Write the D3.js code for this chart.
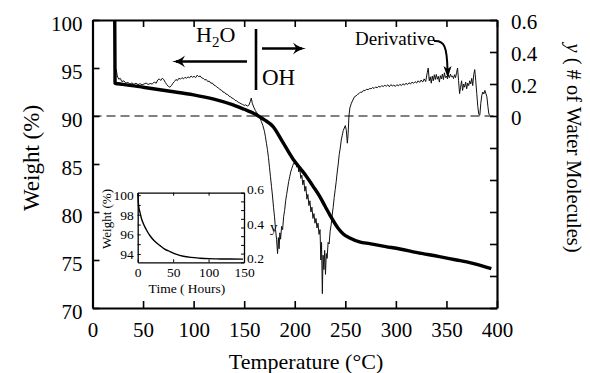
<!DOCTYPE html>
<html>
<head>
<meta charset="utf-8">
<script src="https://cdn.jsdelivr.net/npm/d3@7"></script>
<style>
  html, body { margin: 0; padding: 0; background: #fff; }
  svg { display: block; }
</style>
</head>
<body>
<svg id="chart" width="590" height="373" font-family="Liberation Serif"></svg>
<script>
// ---- data ----
const tempTicks = [0, 50, 100, 150, 200, 250, 300, 350, 400];
const weightTicks = [70, 75, 80, 85, 90, 95, 100];
const waterTicks = [-1.2, -1.0, -0.8, -0.6, -0.4, -0.2, 0, 0.2, 0.4, 0.6];
const waterLabels = [0, 0.2, 0.4, 0.6];

// thermogravimetric weight loss (%)
const tgaTemp   = [22, 22.3, 30, 50, 75, 100, 120, 139, 150, 157, 164, 170, 178.6, 188, 198.4, 205, 211.6, 218, 224.8, 230, 234.7, 242.9, 248, 254.4, 264, 274, 290, 304, 320, 343, 360, 370, 380, 394.4];
const tgaWeight = [100, 93.4, 93.3, 93.0, 92.6, 92.2, 91.75, 91.15, 90.7, 90.4, 90.0, 89.6, 88.9, 87.3, 85.5, 84.6, 83.7, 82.7, 81.6, 80.6, 79.7, 78.3, 77.7, 77.3, 76.9, 76.7, 76.4, 76.15, 75.8, 75.35, 75.0, 74.8, 74.55, 74.1];

// derivative expressed as y (# of water molecules)
const derivTemp = [21.5, 22.5, 23.5, 24.5, 26, 27.5, 29, 31, 33, 35, 37, 39, 41, 43, 45, 47, 49, 51, 53, 55, 57, 59, 61, 63, 64.5, 66, 67.5, 69, 70.5, 72, 73.5, 75, 76.5, 78, 79.5, 81, 82.5, 84, 85.5, 87, 88.5, 90, 91.5, 93, 94.5, 96, 97.5, 99, 100.5, 102, 103.5, 105, 106.5, 108, 109.5, 111, 112.5, 114, 115.5, 117, 118.5, 120, 121.5, 123, 124.5, 126, 127.5, 129, 130.5, 132, 133.5, 135, 136.5, 138, 139.5, 141, 142.5, 144, 145.5, 147, 148.5, 150, 151.5, 153, 154.5, 156, 157, 158, 159.5, 161, 162.5, 164, 165.5, 167, 168.5, 170, 171, 172, 173, 174, 175, 176, 177, 178, 179, 180, 181, 182, 183, 183.8, 184.5, 185.3, 186, 187, 188, 189, 190, 191, 192, 193, 194, 195, 196, 197, 198, 199, 200, 201, 202, 203, 204, 205, 206, 207, 208, 209, 210, 211, 212, 213, 214, 215, 216, 217, 218, 219, 220, 221, 222, 223, 224, 225, 225.8, 226.5, 227.3, 228, 228.8, 229.6, 230.4, 231.2, 232, 233, 234, 235, 236, 237, 238, 239, 240, 241, 242, 243, 244, 245, 246, 247, 248, 249, 250, 251, 252, 252.8, 253.6, 254.5, 256, 257.5, 259, 260.5, 262, 263.5, 265, 266.5, 268, 269.5, 271, 272.5, 274, 275.5, 277, 278.5, 280, 281.5, 283, 284.5, 286, 287.5, 289, 290.5, 292, 293.5, 295, 296.5, 298, 299.5, 301, 302.5, 304, 305.5, 307, 308.5, 310, 311.5, 313, 314.5, 316, 317.5, 319, 320.5, 322, 323.5, 325, 326.5, 328, 329.5, 331, 332, 333, 334, 335, 336, 337, 338, 339, 340, 341, 342, 343, 344, 345, 346, 347, 348, 349, 350, 351, 352, 353, 354, 355, 356, 357, 358, 359, 360, 361, 362, 363, 364, 365, 366, 367, 368, 369, 370, 371, 372, 373, 374, 375, 376, 377, 378, 379, 380, 381, 382, 383, 384, 385, 386, 387, 388, 389, 390, 391, 392, 393];
const derivWater = [0.31, 0.27, 0.29, 0.25, 0.23, 0.235, 0.215, 0.22, 0.205, 0.21, 0.2, 0.207, 0.198, 0.205, 0.196, 0.202, 0.195, 0.2, 0.206, 0.197, 0.203, 0.2, 0.212, 0.205, 0.225, 0.232, 0.222, 0.236, 0.228, 0.21, 0.196, 0.185, 0.18, 0.19, 0.205, 0.215, 0.228, 0.222, 0.236, 0.23, 0.24, 0.232, 0.242, 0.236, 0.245, 0.238, 0.25, 0.242, 0.248, 0.24, 0.255, 0.246, 0.25, 0.238, 0.235, 0.226, 0.228, 0.215, 0.218, 0.205, 0.206, 0.193, 0.19, 0.18, 0.176, 0.165, 0.162, 0.15, 0.148, 0.137, 0.135, 0.124, 0.12, 0.112, 0.108, 0.098, 0.095, 0.086, 0.082, 0.076, 0.072, 0.066, 0.07, 0.062, 0.066, 0.09, 0.112, 0.08, 0.055, 0.035, 0.02, 0.005, -0.01, -0.035, -0.06, -0.095, -0.13, -0.17, -0.21, -0.26, -0.32, -0.38, -0.44, -0.5, -0.57, -0.63, -0.71, -0.77, -0.86, -0.76, -0.83, -0.73, -0.77, -0.69, -0.71, -0.63, -0.59, -0.53, -0.49, -0.45, -0.41, -0.38, -0.35, -0.33, -0.31, -0.295, -0.3, -0.285, -0.32, -0.3, -0.35, -0.33, -0.39, -0.37, -0.43, -0.4, -0.47, -0.44, -0.52, -0.49, -0.56, -0.53, -0.6, -0.57, -0.64, -0.61, -0.67, -0.64, -0.7, -0.67, -0.74, -0.71, -0.9, -0.79, -1.11, -0.87, -0.96, -0.84, -0.99, -0.86, -0.89, -0.79, -0.8, -0.72, -0.68, -0.62, -0.57, -0.51, -0.46, -0.41, -0.35, -0.3, -0.24, -0.2, -0.15, -0.12, -0.09, -0.075, -0.06, -0.09, -0.17, -0.11, 0.0, 0.05, 0.08, 0.1, 0.12, 0.125, 0.135, 0.14, 0.15, 0.148, 0.16, 0.158, 0.168, 0.164, 0.172, 0.17, 0.178, 0.172, 0.182, 0.176, 0.186, 0.18, 0.19, 0.184, 0.192, 0.186, 0.195, 0.183, 0.196, 0.188, 0.193, 0.185, 0.196, 0.188, 0.198, 0.19, 0.202, 0.193, 0.205, 0.196, 0.208, 0.2, 0.212, 0.204, 0.215, 0.206, 0.22, 0.21, 0.225, 0.212, 0.232, 0.215, 0.27, 0.3, 0.22, 0.245, 0.205, 0.25, 0.22, 0.258, 0.228, 0.26, 0.23, 0.248, 0.212, 0.252, 0.232, 0.262, 0.228, 0.27, 0.24, 0.25, 0.232, 0.256, 0.24, 0.262, 0.245, 0.25, 0.234, 0.258, 0.24, 0.27, 0.3, 0.22, 0.14, 0.18, 0.22, 0.16, 0.2, 0.18, 0.212, 0.17, 0.205, 0.19, 0.22, 0.2, 0.235, 0.19, 0.26, 0.29, 0.22, 0.14, 0.06, 0.01, 0.005, 0.08, 0.13, 0.15, 0.138, 0.16, 0.14, 0.12, 0.06, 0.01, 0.005];

// isothermal weight loss versus time (inset)
const hourTicks = [0, 50, 100, 150];
const insetWeightTicks = [94, 96, 98, 100];
const insetWaterTicks = [0.2, 0.4, 0.6];
const insetHours  = [0.3, 0.7, 1.2, 2, 3.2, 5, 7.9, 12, 17.4, 24, 31.5, 38, 45.6, 55, 64.3, 75, 87.8, 100, 111.5, 130, 148.6];
const insetWeight = [100.2, 99.5, 99.0, 98.6, 98.25, 97.7, 97.1, 96.5, 95.86, 95.3, 94.85, 94.5, 94.24, 93.95, 93.77, 93.65, 93.57, 93.52, 93.5, 93.48, 93.47];

// ---- layout ----
const FONT = "Liberation Serif";
const svg = d3.select("#chart");
const box = { left: 92.5, right: 497, top: 20, bottom: 308 };

const x = d3.scaleLinear().domain([0, 400]).range([box.left, box.right]);
const yW = d3.scaleLinear().domain([70, 100]).range([box.bottom, box.top]);
const yH = d3.scaleLinear().domain([-1.2, 0.6]).range([box.bottom, box.top]);

const tickFont = 21;

function styleAxis(g, width) {
  g.attr("font-family", FONT);
  g.select(".domain").attr("stroke", "#000").attr("stroke-width", width);
  g.selectAll(".tick line").attr("stroke", "#000").attr("stroke-width", 1.6);
  g.selectAll(".tick text").attr("fill", "#000");
}

svg.append("g")
  .attr("transform", `translate(0,${box.bottom})`)
  .call(d3.axisBottom(x).tickValues(tempTicks).tickSize(-7).tickSizeOuter(0).tickPadding(14).tickFormat(d3.format("d")))
  .call(g => styleAxis(g, 2.2))
  .call(g => g.selectAll(".tick text").attr("font-size", tickFont));

svg.append("g")
  .attr("transform", `translate(0,${box.top})`)
  .call(d3.axisTop(x).tickValues(tempTicks).tickSize(-7).tickSizeOuter(0).tickFormat(""))
  .call(g => styleAxis(g, 2.2));

svg.append("g")
  .attr("transform", `translate(${box.left},0)`)
  .call(d3.axisLeft(yW).tickValues(weightTicks).tickSize(-7).tickSizeOuter(0).tickPadding(10).tickFormat(d3.format("d")))
  .call(g => styleAxis(g, 2.2))
  .call(g => g.selectAll(".tick text").attr("font-size", tickFont).attr("dy", "0.48em"));

svg.append("g")
  .attr("transform", `translate(${box.right},0)`)
  .call(d3.axisRight(yH).tickValues(waterTicks).tickSize(-7).tickSizeOuter(0).tickPadding(14)
    .tickFormat(d => waterLabels.some(v => Math.abs(v - d) < 1e-9) ? (Math.abs(d) < 1e-9 ? "0" : d3.format(".1f")(d)) : ""))
  .call(g => styleAxis(g, 2.2))
  .call(g => g.selectAll(".tick text").attr("font-size", tickFont).attr("dy", "0.4em"));

// axis titles
svg.append("text")
  .attr("transform", `translate(39,158) rotate(-90)`)
  .attr("text-anchor", "middle").attr("font-size", 23)
  .text("Weight (%)");

svg.append("text")
  .attr("transform", `translate(567,148) rotate(90)`)
  .attr("text-anchor", "middle").attr("font-size", 20.5)
  .call(t => {
    t.append("tspan").attr("font-style", "italic").text("y");
    t.append("tspan").text(" ( # of Water Molecules)");
  });

svg.append("text")
  .attr("x", 306).attr("y", 369)
  .attr("text-anchor", "middle").attr("font-size", 22)
  .text("Temperature (°C)");

// zero reference of the derivative
svg.append("line")
  .attr("x1", box.left).attr("x2", box.right)
  .attr("y1", yH(0)).attr("y2", yH(0))
  .attr("stroke", "#000").attr("stroke-width", 1)
  .attr("stroke-dasharray", "9,5");

// derivative trace
const derivLine = d3.line().x(d => x(d[0])).y(d => yH(d[1]));
svg.append("path")
  .datum(d3.zip(derivTemp, derivWater))
  .attr("d", derivLine)
  .attr("fill", "none").attr("stroke", "#111").attr("stroke-width", 1)
  .attr("stroke-linejoin", "round");

// weight curve
const tgaLine = d3.line().x(d => x(d[0])).y(d => yW(d[1])).curve(d3.curveMonotoneX);
svg.append("path")
  .datum(d3.zip(tgaTemp, tgaWeight))
  .attr("d", tgaLine)
  .attr("fill", "none").attr("stroke", "#000").attr("stroke-width", 3.4)
  .attr("stroke-linejoin", "round");

// ---- H2O / OH annotation ----
const ann = svg.append("g");
ann.append("text").attr("x", 196).attr("y", 42).attr("font-size", 22)
  .call(t => {
    t.append("tspan").text("H");
    t.append("tspan").attr("font-size", 15).attr("dy", 5).text("2");
    t.append("tspan").attr("dy", -5).text("O");
  });
ann.append("text").attr("x", 262).attr("y", 85).attr("font-size", 23).text("OH");
ann.append("line").attr("x1", 256).attr("x2", 256).attr("y1", 29).attr("y2", 90)
  .attr("stroke", "#000").attr("stroke-width", 2.6);

function arrowHead(g, tipX, tipY, dir) {
  // dir: +1 points right, -1 points left
  const l = 13 * dir, w = 6;
  g.append("path")
    .attr("d", `M${tipX},${tipY} Q${tipX - l * 0.55},${tipY - 1} ${tipX - l},${tipY - w} L${tipX - l * 0.75},${tipY} L${tipX - l},${tipY + w} Q${tipX - l * 0.55},${tipY + 1} ${tipX},${tipY} Z`)
    .attr("fill", "#000");
}
ann.append("line").attr("x1", 247).attr("x2", 176).attr("y1", 61.5).attr("y2", 61.5)
  .attr("stroke", "#000").attr("stroke-width", 2.4);
arrowHead(ann, 172, 61.5, -1);
ann.append("line").attr("x1", 262).attr("x2", 302).attr("y1", 48.5).attr("y2", 48.5)
  .attr("stroke", "#000").attr("stroke-width", 2.4);
arrowHead(ann, 306, 48.5, 1);

// ---- derivative label ----
svg.append("text").attr("x", 355).attr("y", 45).attr("font-size", 19).text("Derivative");
svg.append("path")
  .attr("d", "M434,41 C444,40 447,46 447.5,70")
  .attr("fill", "none").attr("stroke", "#000").attr("stroke-width", 2);
svg.append("path")
  .attr("d", "M447.8,78 L443.5,66 L447.6,69 L451.5,66 Z")
  .attr("fill", "#000");

// ---- inset: weight vs time ----
const ib = { left: 137.7, right: 244, top: 192.7, bottom: 262.3 };
const ix = d3.scaleLinear().domain([0, 150]).range([ib.left, ib.right]);
const iy = d3.scaleLinear().domain([93.15, 100.25]).range([ib.bottom, ib.top]);
const iyR = d3.scaleLinear().domain([0.2, 0.6]).range([ib.bottom, ib.top]);

const inset = svg.append("g");
inset.append("rect").attr("x", ib.left).attr("y", ib.top)
  .attr("width", ib.right - ib.left).attr("height", ib.bottom - ib.top)
  .attr("fill", "#fff").attr("stroke", "none");

const insetFont = 13.5;
function styleInset(g) {
  g.attr("font-family", FONT);
  g.select(".domain").attr("stroke", "#000").attr("stroke-width", 1.3);
  g.selectAll(".tick line").attr("stroke", "#000").attr("stroke-width", 1);
  g.selectAll(".tick text").attr("fill", "#000").attr("font-size", insetFont);
}
inset.append("g").attr("transform", `translate(0,${ib.bottom})`)
  .call(d3.axisBottom(ix).tickValues(hourTicks).tickSize(-3).tickSizeOuter(0).tickPadding(5).tickFormat(d3.format("d")))
  .call(styleInset);
inset.append("g").attr("transform", `translate(0,${ib.top})`)
  .call(d3.axisTop(ix).tickValues(hourTicks).tickSize(-3).tickSizeOuter(0).tickFormat(""))
  .call(styleInset);
inset.append("g").attr("transform", `translate(${ib.left},0)`)
  .call(d3.axisLeft(iy).tickValues(d3.range(94, 100.5, 1)).tickSize(-3).tickSizeOuter(0).tickPadding(4)
    .tickFormat(d => insetWeightTicks.includes(d) ? d3.format("d")(d) : ""))
  .call(styleInset);
inset.append("g").attr("transform", `translate(${ib.right},0)`)
  .call(d3.axisRight(iyR).tickValues(d3.range(0.2, 0.601, 0.05)).tickSize(-3).tickSizeOuter(0).tickPadding(3)
    .tickFormat(d => insetWaterTicks.some(v => Math.abs(v - d) < 1e-6) ? d3.format(".1f")(d) : ""))
  .call(styleInset)
  .call(g => g.selectAll(".tick text").attr("dy", "0.05em"));

inset.append("path")
  .datum(d3.zip(insetHours, insetWeight))
  .attr("d", d3.line().x(d => ix(d[0])).y(d => iy(d[1])).curve(d3.curveMonotoneX))
  .attr("fill", "none").attr("stroke", "#000").attr("stroke-width", 1.4);

inset.append("text").attr("transform", "translate(111,219) rotate(-90)")
  .attr("text-anchor", "middle").attr("font-size", 13).text("Weight (%)");
inset.append("text").attr("x", 187).attr("y", 292.5)
  .attr("text-anchor", "middle").attr("font-size", 13.5).text("Time ( Hours)");
inset.append("text").attr("x", 270).attr("y", 232).attr("font-size", 15).text("y");
</script>
</body>
</html>
